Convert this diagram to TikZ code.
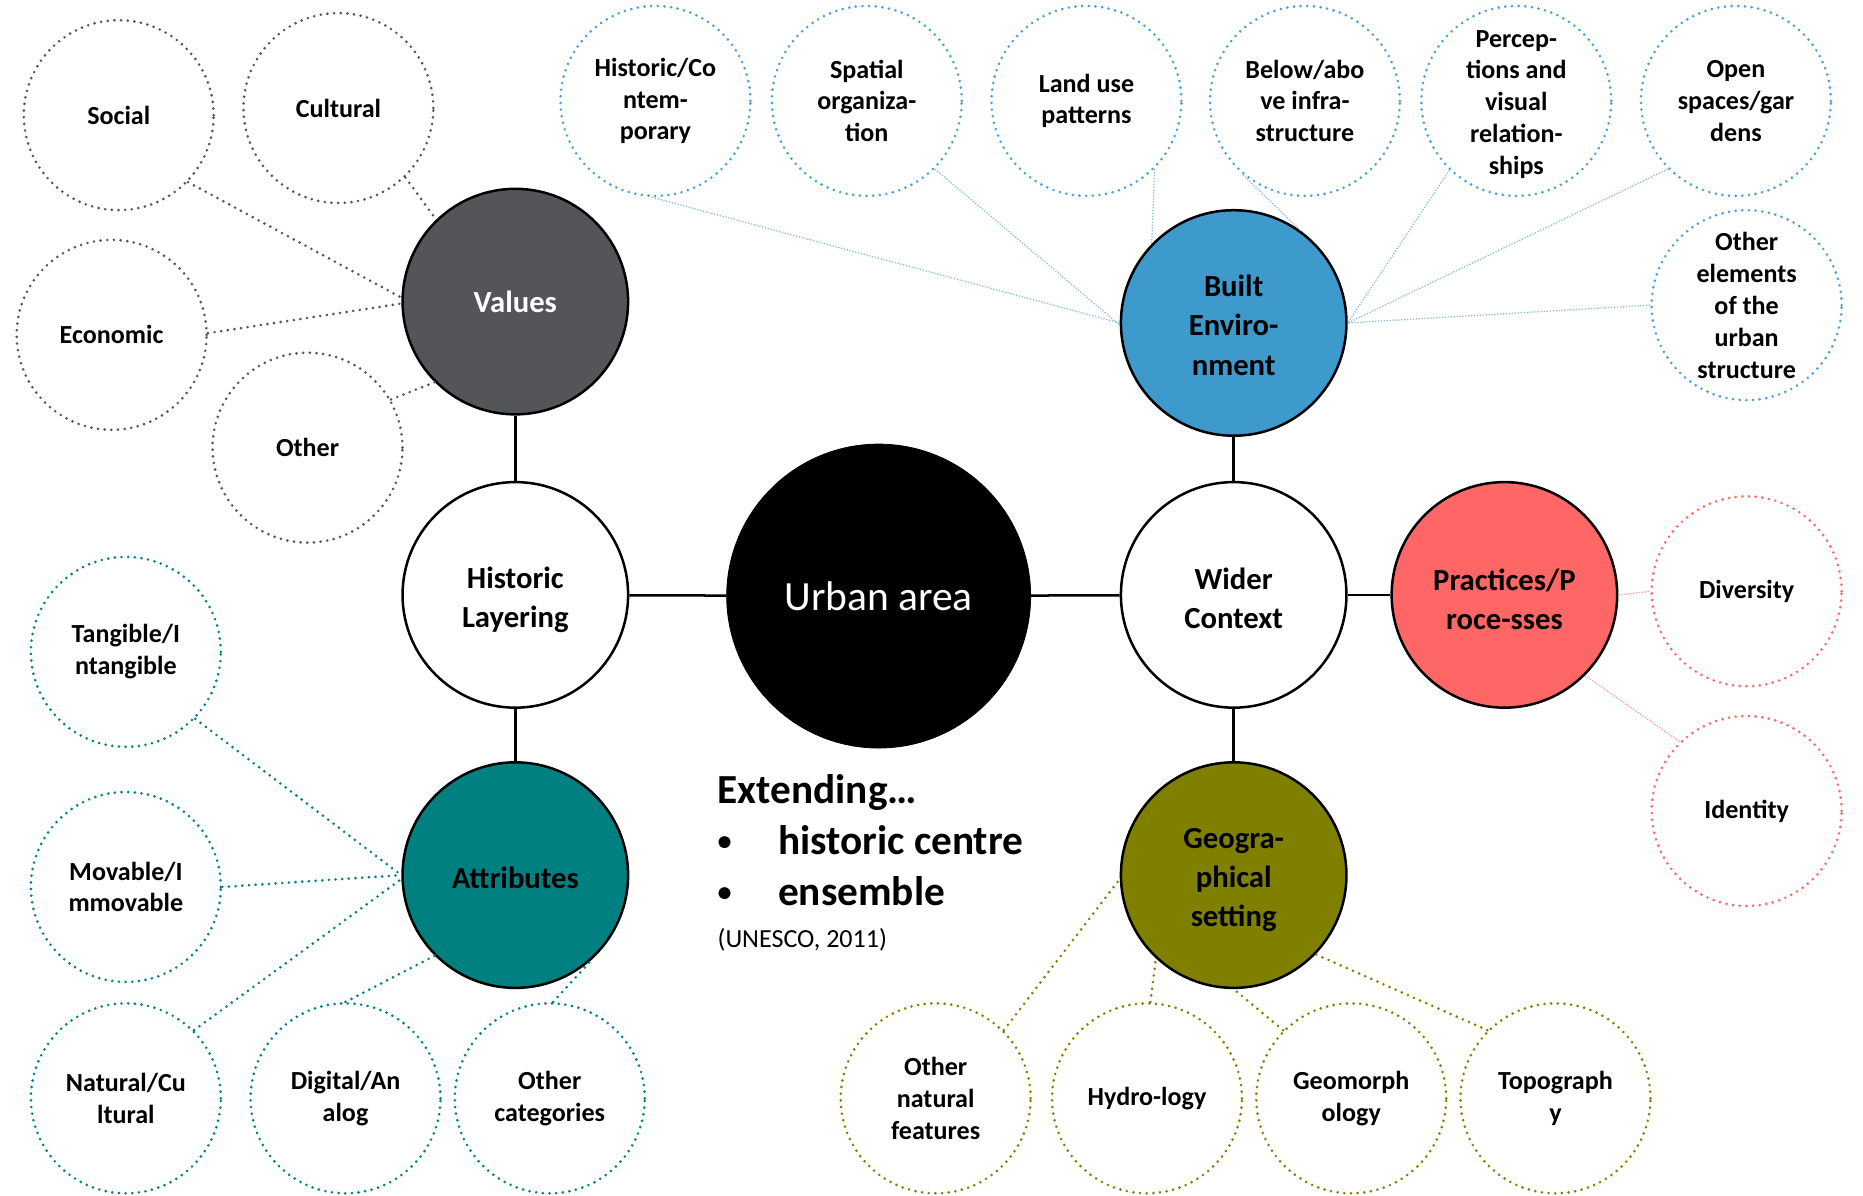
\documentclass[tikz,border=0pt]{standalone}
\usepackage{fontspec}
\setmainfont{Carlito}
\definecolor{valgray}{RGB}{84,85,88}
\definecolor{dotgray}{RGB}{85,85,85}
\definecolor{builtblue}{RGB}{62,154,204}
\definecolor{dotblue}{RGB}{72,160,214}
\definecolor{lineblue}{RGB}{130,185,225}
\definecolor{pracred}{RGB}{255,102,102}
\definecolor{linered}{RGB}{255,150,150}
\definecolor{attrteal}{RGB}{0,128,128}
\definecolor{geoolive}{RGB}{128,128,0}
\begin{document}
\begin{tikzpicture}[x=0.02cm,y=0.02cm,
  mainc/.style={circle, draw=black, line width=1.2pt, minimum size=3.8cm, inner sep=0pt, align=center,
    font=\fontsize{14.7}{18.7}\selectfont\bfseries},
  mainlbl/.style={inner sep=0pt, align=center, font=\fontsize{14.7}{18.7}\selectfont\bfseries},
  sat/.style={circle, draw=#1, line width=1.4pt, dash pattern=on 0pt off 3.2pt, line cap=round,
    minimum size=3.2cm, inner sep=0pt, align=center, font=\fontsize{12.5}{15.3}\selectfont\bfseries},
  dotconn/.style={draw=#1, line width=1.4pt, dash pattern=on 0pt off 3.2pt, line cap=round},
  thinconn/.style={draw=#1, line width=0.6pt, dash pattern=on 0.6pt off 0.8pt},
  solidconn/.style={draw=black, line width=1.2pt},
  bigtxt/.style={anchor=base west, inner sep=0pt, font=\fontsize{19.8}{24}\selectfont\bfseries},
  bullettxt/.style={anchor=base west, inner sep=0pt, font=\fontsize{13.5}{16}\selectfont\bfseries}
]
\useasboundingbox (0,0) rectangle (1569,-1007);

% main circles
\node[circle, fill=black, draw=black, minimum size=5.12cm, inner sep=0pt, text=white,
  font=\fontsize{19.9}{24}\selectfont] (urban) at (740,-502) {Urban area};
\node[mainc, fill=white] (hist) at (434,-501) {};
\node[mainlbl] (histl) at (434,-505) {Historic\\Layering};
\node[mainc, fill=valgray, text=white] (values) at (434,-254) {Values};
\node[mainc, fill=attrteal] (attr) at (434,-737) {};
\node[mainlbl] (attrl) at (434,-739) {Attributes};
\node[mainc, fill=white] (wider) at (1039,-501) {};
\node[mainlbl] (widerl) at (1039,-504) {Wider\\Context};
\node[mainc, fill=builtblue] (built) at (1039,-272) {};
\node[mainlbl] (builtl) at (1039,-274) {Built\\Enviro-\\nment};
\node[mainc, fill=pracred] (prac) at (1267,-501) {};
\node[mainlbl] (pracl) at (1267,-505) {Practices/P\\roce-sses};
\node[mainc, fill=geoolive] (geo) at (1039,-737) {};
\node[mainlbl] (geol) at (1039,-741) {Geogra-\\phical\\setting};

\draw[solidconn] (values) -- (hist);
\draw[solidconn] (hist) -- (attr);
\draw[solidconn] (hist) -- (urban);
\draw[solidconn] (urban) -- (wider);
\draw[solidconn] (wider) -- (built);
\draw[solidconn] (wider) -- (geo);
\draw[solidconn] (wider) -- (prac);

% values group
\node[sat=dotgray] (social) at (100,-97) {Social};
\node[sat=dotgray] (cultural) at (285,-91) {Cultural};
\node[sat=dotgray] (economic) at (94,-282) {Economic};
\node[sat=dotgray] (otherv) at (259,-377) {Other};
\draw[dotconn=dotgray] (social.-44) -- (values.178);
\draw[dotconn=dotgray] (cultural.-46) -- (values.134);
\draw[dotconn=dotgray] (economic.1) -- (values.181);
\draw[dotconn=dotgray] (otherv.30) -- (values.225);

% built environment group
\node[sat=dotblue] (hc) at (552,-85) {Historic/Co\\ntem-\\porary};
\node[sat=dotblue] (spatial) at (730,-85) {Spatial\\organiza-\\tion};
\node[sat=dotblue] (landuse) at (915,-85) {Land use\\patterns};
\node[sat=dotblue] (below) at (1099,-85) {Below/abo\\ve infra-\\structure};
\node[sat=dotblue] (percep) at (1277,-85) {};
\node[inner sep=0pt, align=center, font=\fontsize{12.5}{15.3}\selectfont\bfseries] (percepl) at (1277,-88) {Percep-\\tions and\\visual\\relation-\\ships};
\node[sat=dotblue] (open) at (1462,-85) {Open\\spaces/gar\\dens};
\node[sat=dotblue] (otherel) at (1471,-257) {Other\\elements\\of the\\urban\\structure};
\draw[thinconn=lineblue] (hc.268) -- (built.180);
\draw[thinconn=lineblue] (spatial.-45) -- (built.181);
\draw[thinconn=lineblue] (landuse.-45.6) -- (built.136);
\draw[thinconn=lineblue] (below.230) -- (built.54);
\draw[thinconn=lineblue] (percep.226) -- (built.0);
\draw[thinconn=lineblue] (open.225) -- (built.0);
\draw[thinconn=lineblue] (otherel.180) -- (built.0);

% practices group
\node[sat=pracred] (diversity) at (1471,-498) {Diversity};
\node[sat=pracred] (identity) at (1471,-683) {Identity};
\draw[thinconn=linered] (prac.0) -- (diversity.180);
\draw[thinconn=linered] (prac.-45) -- (identity.134);

% attributes group
\node[sat=attrteal] (tangible) at (106,-549) {Tangible/I\\ntangible};
\node[sat=attrteal] (movable) at (106,-747) {Movable/I\\mmovable};
\node[sat=attrteal] (natural) at (106,-925) {Natural/Cu\\ltural};
\node[sat=attrteal] (digital) at (291,-925) {Digital/An\\alog};
\node[sat=attrteal] (othercat) at (463,-925) {Other\\categories};
\draw[dotconn=attrteal] (tangible.-44) -- (attr.180);
\draw[dotconn=attrteal] (movable.0) -- (attr.180);
\draw[dotconn=attrteal] (natural.45) -- (attr.182);
\draw[dotconn=attrteal] (digital.90) -- (attr.225);
\draw[dotconn=attrteal] (othercat.88) -- (attr.312);

% geographical group
\node[sat=geoolive] (othernat) at (788,-925) {Other\\natural\\features};
\node[sat=geoolive] (hydro) at (966,-925) {Hydro-logy};
\node[sat=geoolive] (geomorph) at (1138,-925) {Geomorph\\ology};
\node[sat=geoolive] (topo) at (1310,-925) {Topograph\\y};
\draw[dotconn=geoolive] (othernat.45) -- (geo.182);
\draw[dotconn=geoolive] (hydro.88) -- (geo.227);
\draw[dotconn=geoolive] (geomorph.135) -- (geo.270);
\draw[dotconn=geoolive] (topo.135) -- (geo.-44);

% text block
\node[bigtxt] (ext) at (604,-677) {Extending…};
\node[bullettxt] (b1) at (604,-716) {•};
\node[bigtxt] (t1) at (655,-720) {historic centre};
\node[bullettxt] (b2) at (604,-759) {•};
\node[bigtxt] (t2) at (655,-763) {ensemble};
\node[anchor=base west, inner sep=0pt, font=\fontsize{12.5}{15}\selectfont] (unesco) at (604,-798) {(UNESCO, 2011)};
\end{tikzpicture}
\end{document}
